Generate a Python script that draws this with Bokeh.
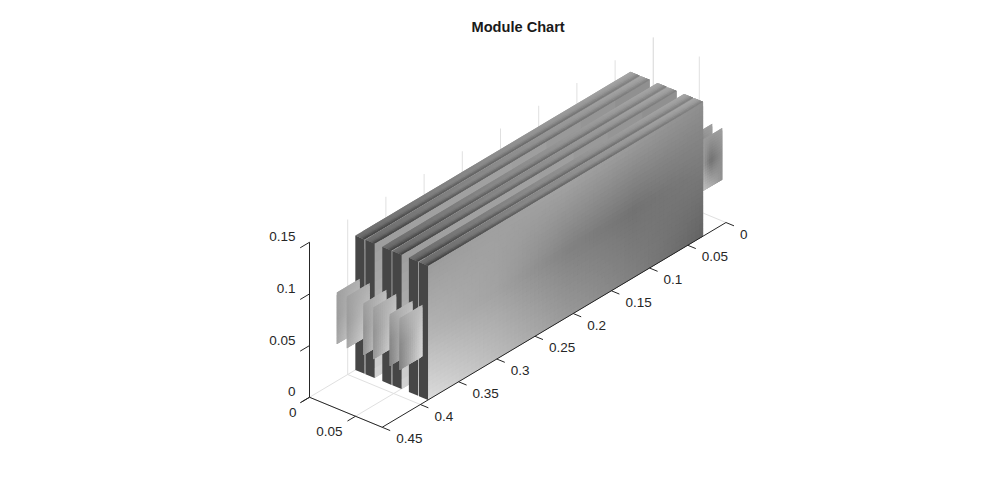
from bokeh.plotting import figure
from bokeh.models import Range1d
from bokeh.core.properties import value
from bokeh.embed import file_html
from bokeh.resources import INLINE

# ---- chart values -------------------------------------------------------
title = "Module Chart"
x_lim = 0.079
y_lim = 0.45
z_lim = 0.15
x_ticks = [0, 0.05]
y_ticks = [0, 0.05, 0.1, 0.15, 0.2, 0.25, 0.3, 0.35, 0.4, 0.45]
z_ticks = [0, 0.05, 0.1, 0.15]
x_labels = ["0", "0.05"]
y_labels = ["0", "0.05", "0.1", "0.15", "0.2", "0.25", "0.3", "0.35", "0.4", "0.45"]
z_labels = ["0", "0.05", "0.1", "0.15"]

box_x0 = [0.0000, 0.0110, 0.0293, 0.0403, 0.0582, 0.0692]
box_x1 = [0.0100, 0.0210, 0.0393, 0.0503, 0.0682, 0.0790]
box_y0 = 0.03
box_y1 = 0.39
box_z1 = 0.13
chip_near_x = [0.0048, 0.0157, 0.0338, 0.0445, 0.0623, 0.0730]
chip_far_x = [0.0050, 0.0160, 0.0343, 0.0450, 0.0640, 0.0749]
chip_near_y = [0.39, 0.42]
chip_far_y = [0.03, 0.0]
chip_z = [0.04, 0.09]

# gray levels (rows: z high -> low; cols: y near -> far)
side_gray = [
    [156, 160, 162, 154, 143],
    [180, 162, 130, 114, 122],
    [220, 188, 154, 128, 99],
]
# rows: y near -> far; cols: x low -> high
top_gray = [
    [112, 104, 60],
    [130, 134, 90],
    [152, 146, 106],
    [168, 156, 126],
]
near_gray = 70
chip_near_gray = [
    [[176, 170, 160], [192, 176, 156], [213, 192, 168]],
    [[176, 170, 160], [192, 176, 156], [213, 192, 168]],
    [[186, 176, 160], [205, 178, 146], [220, 190, 150]],
    [[186, 176, 160], [205, 178, 146], [220, 190, 150]],
    [[188, 181, 160], [208, 170, 136], [218, 176, 128]],
    [[188, 181, 160], [208, 170, 136], [218, 176, 128]],
]
chip_far_gray = [[154, 154, 160], [176, 112, 144], [200, 176, 144]]

ink = "#262626"
grid = "#e0e0e0"
font = "Liberation Sans"


# ---- oblique view of the 3-D axes box, in page pixels ---------------------
def project(x, y, z):
    return (652.8 + 920.0 * x - 764.0 * y, 192.0 + 380.0 * x + 455.0 * y - 1033.3 * z)


def lerp2(table, u, v):
    rows, cols = len(table), len(table[0])
    ru, cv = u * (rows - 1), v * (cols - 1)
    i, j = min(int(ru), rows - 2), min(int(cv), cols - 2)
    fu, fv = ru - i, cv - j
    return (table[i][j] * (1 - fu) * (1 - fv) + table[i + 1][j] * fu * (1 - fv)
            + table[i][j + 1] * (1 - fu) * fv + table[i + 1][j + 1] * fu * fv)


xs_, ys_, cs_ = [], [], []


def shade(corner, table, nu, nv):
    """corner(u, v) -> 3-D point; table gives gray over the same u, v."""
    for a in range(nu):
        for b in range(nv):
            u0, u1, v0, v1 = a / nu, (a + 1) / nu, b / nv, (b + 1) / nv
            # each cell runs under its successor, so no seams show
            u2, v2 = min(1, u1 + 1.0 / nu), min(1, v1 + 1.0 / nv)
            pts = [project(*corner(u, v)) for u, v in ((u0, v0), (u0, v2), (u2, v2), (u2, v0))]
            g = max(0, min(255, round(lerp2(table, (u0 + u1) / 2, (v0 + v1) / 2))))
            xs_.append([q[0] for q in pts])
            ys_.append([q[1] for q in pts])
            cs_.append("#%02x%02x%02x" % (g, g, g))


def chip(xc, ya, yb, table):
    shade(lambda u, v: (xc, ya + (yb - ya) * v, chip_z[1] + (chip_z[0] - chip_z[1]) * u), table, 20, 12)


# far chips first, they sit behind the blocks
for xc in chip_far_x:
    chip(xc, chip_far_y[0], chip_far_y[1], chip_far_gray)

for k in range(6):
    x0, x1 = box_x0[k], box_x1[k]
    res = (30, 70) if k == 5 else (14, 8)
    shade(lambda u, v: (x1, box_y1 + (box_y0 - box_y1) * v, box_z1 * (1 - u)), side_gray, res[0], res[1])
    shade(lambda u, v: (x0 + (x1 - x0) * v, box_y1, box_z1 * (1 - u)),
          [[near_gray, near_gray], [near_gray, near_gray]], 1, 1)
    shade(lambda u, v: (x0 + (x1 - x0) * v, box_y1 + (box_y0 - box_y1) * u, box_z1), top_gray, 40, 6)

for xc, tb in zip(chip_near_x, chip_near_gray):
    chip(xc, chip_near_y[0], chip_near_y[1], tb)

# ---- figure ---------------------------------------------------------------
p = figure(frame_width=984, frame_height=448, output_backend="svg", toolbar_location=None,
           x_range=Range1d(0, 984), y_range=Range1d(484, 36),
           min_border_left=0, min_border_right=0, min_border_bottom=0, min_border_top=36,
           title=title)
p.title.align = "left"
p.title.offset = 471
p.title.standoff = 4
p.title.text_font = font
p.title.text_font_size = "14.6px"
p.title.text_color = "#1a1a1a"
p.title.text_font_style = "bold"
p.axis.visible = False
p.grid.visible = False
p.outline_line_color = None
p.background_fill_color = "white"


def seg(points, color, width=1.0):
    x0 = [project(*a)[0] for a, b in points]
    y0 = [project(*a)[1] for a, b in points]
    x1 = [project(*b)[0] for a, b in points]
    y1 = [project(*b)[1] for a, b in points]
    p.segment(x0, y0, x1, y1, line_color=color, line_width=width)


# grid behind the blocks
g = []
for yt in y_ticks:
    g.append(((0, yt, 0), (x_lim, yt, 0)))
    g.append(((0, yt, 0), (0, yt, z_lim)))
for xt in x_ticks:
    g.append(((xt, 0, 0), (xt, y_lim, 0)))
    g.append(((xt, 0, 0), (xt, 0, z_lim)))
seg(g, grid)

p.patches(xs_, ys_, fill_color=cs_, line_color=None)

# axes
seg([((0, y_lim, 0), (x_lim, y_lim, 0)),
     ((x_lim, 0, 0), (x_lim, y_lim, 0)),
     ((0, y_lim, 0), (0, y_lim, z_lim))], ink)
ticks = []
for xt in x_ticks:
    a = (xt, y_lim, 0)
    ticks.append((a, (xt, y_lim + 0.0105, 0)))
for yt in y_ticks:
    a = (x_lim, yt, 0)
    ticks.append((a, (x_lim + 0.0087, yt, 0)))
for zt in z_ticks:
    a = (0, y_lim, zt)
    ticks.append((a, (0, y_lim + 0.0122, zt)))
seg(ticks, ink)


def labels(pos, names, align, dx, dy):
    sx = [project(*q)[0] + dx for q in pos]
    sy = [project(*q)[1] + dy for q in pos]
    p.text(sx, sy, text=names, text_font=value(font), text_font_size="13.5px", text_color=ink,
           text_align=align, text_baseline="middle")


labels([(x_lim, yt, 0) for yt in y_ticks], y_labels, "left", 14, 11.5)
labels([(xt, y_lim, 0) for xt in x_ticks], x_labels, "right", -13, 15)
labels([(0, y_lim, zt) for zt in z_ticks], z_labels, "right", -14, -5.5)

open("out.html", "w").write(file_html(p, INLINE))
